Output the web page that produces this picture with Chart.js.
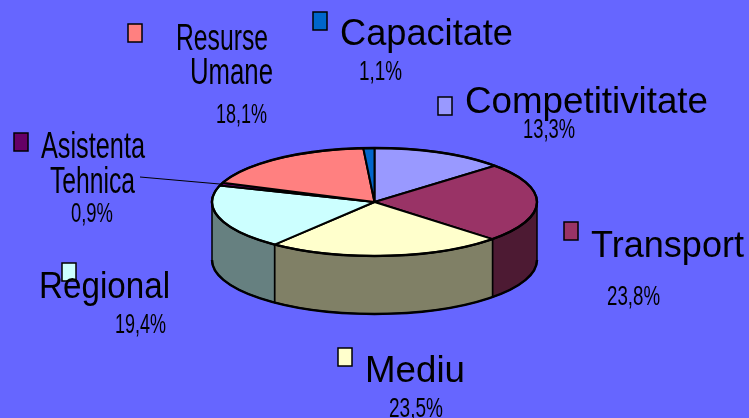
<!DOCTYPE html>
<html>
<head>
<meta charset="utf-8">
<script src="https://cdn.jsdelivr.net/npm/chart.js@4/dist/chart.umd.min.js"></script>
<style>
  html, body { margin: 0; padding: 0; background: #6666FF; overflow: hidden; }
  canvas { display: block; }
</style>
</head>
<body>
<canvas id="pieChart" width="749" height="418"></canvas>
<script>
// slices, clockwise from 12 o'clock
const categories = ['Competitivitate', 'Transport', 'Mediu', 'Regional', 'Asistenta Tehnica', 'Resurse Umane', 'Capacitate']
const shares = [13.3, 23.8, 23.5, 19.4, 0.9, 18.1, 1.1]
const colors = ['#9999FF', '#993366', '#FFFFCC', '#CCFFFF', '#660066', '#FF8080', '#0066CC']

// label placement: key box, name lines [x, baseline, maxWidth], percent
const labelLayout = [
    { key: [438, 97], lines: [[465, 113, 243]], pct: [523, 138, 52] },
    { key: [564, 222], lines: [[591, 257, 153]], pct: [607, 305, 53] },
    { key: [338, 348], lines: [[365, 382, 100]], pct: [389, 417, 54] },
    { key: [62, 263], lines: [[39, 298, 131]], pct: [115, 333, 51] },
    { key: [14, 133], lines: [[41, 158, 104], [50, 193, 85]], pct: [71, 222, 42], leader: [140, 177] },
    { key: [128, 24], lines: [[176, 50, 92], [190, 84, 83]], pct: [216, 123, 51] },
    { key: [313, 12], lines: [[340, 45, 173]], pct: [359, 80, 43] }
]

const TILT = 0.332
const DEPTH = 0.357

const halfShade = (hex) => {
    const n = parseInt(hex.slice(1), 16)
    const r = (n >> 16) & 255, g = (n >> 8) & 255, b = n & 255
    return `rgb(${Math.round(r / 2)},${Math.round(g / 2)},${Math.round(b / 2)})`
}

const pie3d = {
    id: 'pie3d',
    beforeDatasetsDraw(chart) {
        const ctx = chart.ctx
        const arcs = chart.getDatasetMeta(0).data
        const cx = arcs[0].x, cy = arcs[0].y, rx = arcs[0].outerRadius
        const ry = rx * TILT, depth = rx * DEPTH
        ctx.save()
        ctx.strokeStyle = '#000'
        ctx.lineJoin = 'round'

        // front walls
        arcs.forEach((arc, i) => {
            const s = Math.max(arc.startAngle, 0)
            const e = Math.min(arc.endAngle, Math.PI)
            if (e <= s) return
            ctx.beginPath()
            ctx.ellipse(cx, cy, rx, ry, 0, s, e)
            ctx.ellipse(cx, cy + depth, rx, ry, 0, e, s, true)
            ctx.closePath()
            ctx.fillStyle = halfShade(colors[i])
            ctx.fill()
            ctx.lineWidth = 1.5
            ctx.stroke()
        })
        // bottom rim
        ctx.beginPath()
        ctx.ellipse(cx, cy + depth, rx, ry, 0, 0, Math.PI)
        ctx.lineWidth = 2.5
        ctx.stroke()

        // top face
        arcs.forEach((arc, i) => {
            ctx.beginPath()
            ctx.moveTo(cx, cy)
            ctx.ellipse(cx, cy, rx, ry, 0, arc.startAngle, arc.endAngle)
            ctx.closePath()
            ctx.fillStyle = colors[i]
            ctx.fill()
            ctx.lineWidth = 2
            ctx.stroke()
        })
        ctx.beginPath()
        ctx.ellipse(cx, cy, rx, ry, 0, 0, Math.PI * 2)
        ctx.lineWidth = 2.5
        ctx.stroke()
        ctx.restore()
        return false
    },
    afterDraw(chart) {
        const ctx = chart.ctx
        const arcs = chart.getDatasetMeta(0).data
        const cx = arcs[0].x, cy = arcs[0].y, rx = arcs[0].outerRadius
        const ry = rx * TILT
        ctx.save()
        ctx.textAlign = 'left'
        ctx.textBaseline = 'alphabetic'
        labelLayout.forEach((lay, i) => {
            // leader line
            if (lay.leader) {
                const a = (arcs[i].startAngle + arcs[i].endAngle) / 2
                ctx.beginPath()
                ctx.moveTo(lay.leader[0], lay.leader[1])
                ctx.lineTo(cx + rx * Math.cos(a), cy + ry * Math.sin(a))
                ctx.lineWidth = 1
                ctx.strokeStyle = '#000'
                ctx.stroke()
            }
            ctx.fillStyle = colors[i]
            ctx.fillRect(lay.key[0], lay.key[1], 14, 18)
            ctx.lineWidth = 1.5
            ctx.strokeStyle = '#000'
            ctx.strokeRect(lay.key[0], lay.key[1], 14, 18)

            ctx.fillStyle = '#000'
            ctx.font = '37px "Liberation Sans", Arial, sans-serif'
            const words = lay.lines.length > 1 ? categories[i].split(' ') : [categories[i]]
            lay.lines.forEach((ln, j) => ctx.fillText(words[j], ln[0], ln[1], ln[2]))
            ctx.font = '28px "Liberation Sans", Arial, sans-serif'
            const pctText = shares[i].toFixed(1).replace('.', ',') + '%'
            ctx.fillText(pctText, lay.pct[0], lay.pct[1], lay.pct[2])
        })
        ctx.restore()
    }
}

new Chart('pieChart', {
    type: 'pie',
    data: {
        labels: categories,
        datasets: [{ data: shares, backgroundColor: colors, borderWidth: 0 }]
    },
    options: {
        responsive: false,
        animation: false,
        devicePixelRatio: 1,
        layout: { padding: { left: 212, right: 212, top: 32, bottom: 46 } },
        plugins: {
            legend: { display: false },
            tooltip: { enabled: false }
        }
    },
    plugins: [pie3d]
})
</script>
</body>
</html>
